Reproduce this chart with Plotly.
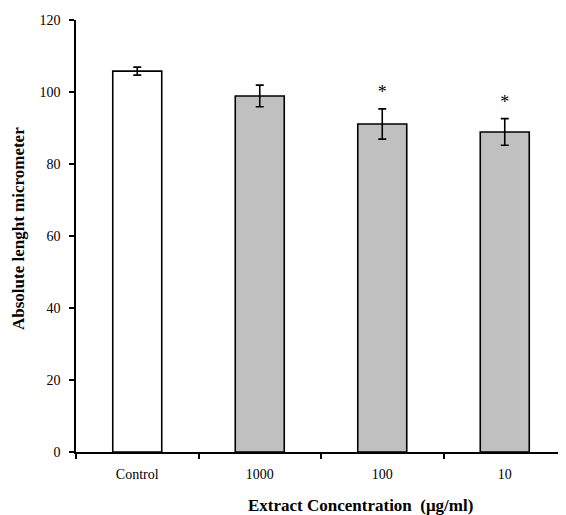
import plotly.graph_objects as go

categories = ["Control", "1000", "100", "10"]
values = [105.8, 98.9, 91.1, 88.9]
errors = [1.1, 3.0, 4.2, 3.7]
significance = ["", "", "*", "*"]
bar_colors = ["#FFFFFF", "#C0C0C0", "#C0C0C0", "#C0C0C0"]
y_ticks = [0, 20, 40, 60, 80, 100, 120]

serif = "Liberation Serif, Times New Roman, serif"

# page body adds an 8px offset; compensate so the plot area sits where the reference has it
W, H = 558, 507
L, T, B, R = 68, 12, 63, 0
pw = W - L - R
ph = H - T - B

fig = go.Figure()
fig.add_trace(go.Bar(
    x=categories, y=values,
    marker=dict(color=bar_colors, line=dict(color="#000000", width=1.6)),
    width=0.4,
    error_y=dict(type="data", array=errors, color="#000000", thickness=1.6, width=4),
    showlegend=False,
))
fig.add_trace(go.Scatter(
    x=categories,
    y=[v + e + 4.2 for v, e in zip(values, errors)],
    text=significance, mode="text",
    textfont=dict(family=serif, size=18, color="#000000"),
    textposition="middle center",
    showlegend=False, hoverinfo="skip",
))

fig.update_layout(
    width=W, height=H,
    margin=dict(l=L, r=R, t=T, b=B),
    paper_bgcolor="white", plot_bgcolor="white",
    font=dict(family=serif, color="#000000", size=14),
    xaxis=dict(
        type="category", range=[-0.5, 3.5],
        showline=True, linecolor="#000000", linewidth=1.5,
        ticks="outside", tickson="boundaries", ticklen=5, tickcolor="#000000", tickwidth=1.5,
        tickfont=dict(family=serif, size=14), ticklabelstandoff=8,
        showgrid=False, zeroline=False,
    ),
    yaxis=dict(
        range=[0, 120], tickvals=y_ticks,
        showline=True, linecolor="#000000", linewidth=1.5,
        ticks="outside", ticklen=5, tickcolor="#000000", tickwidth=1.5,
        tickfont=dict(family=serif, size=14), ticklabelstandoff=6,
        showgrid=False, zeroline=False,
    ),
    annotations=[
        dict(text="<b>Extract Concentration\u00a0\u00a0(μg/ml)</b>",
             x=(360 - 76) / pw, y=(452 - 505) / ph, xref="paper", yref="paper",
             showarrow=False, font=dict(family=serif, size=17),
             xanchor="center", yanchor="middle"),
        dict(text="<b>Absolute lenght micrometer</b>",
             x=(18 - 76) / pw, y=(452 - 229) / ph, xref="paper", yref="paper",
             showarrow=False, font=dict(family=serif, size=17), textangle=-90,
             xanchor="center", yanchor="middle"),
    ],
)

fig.write_html("out.html")
